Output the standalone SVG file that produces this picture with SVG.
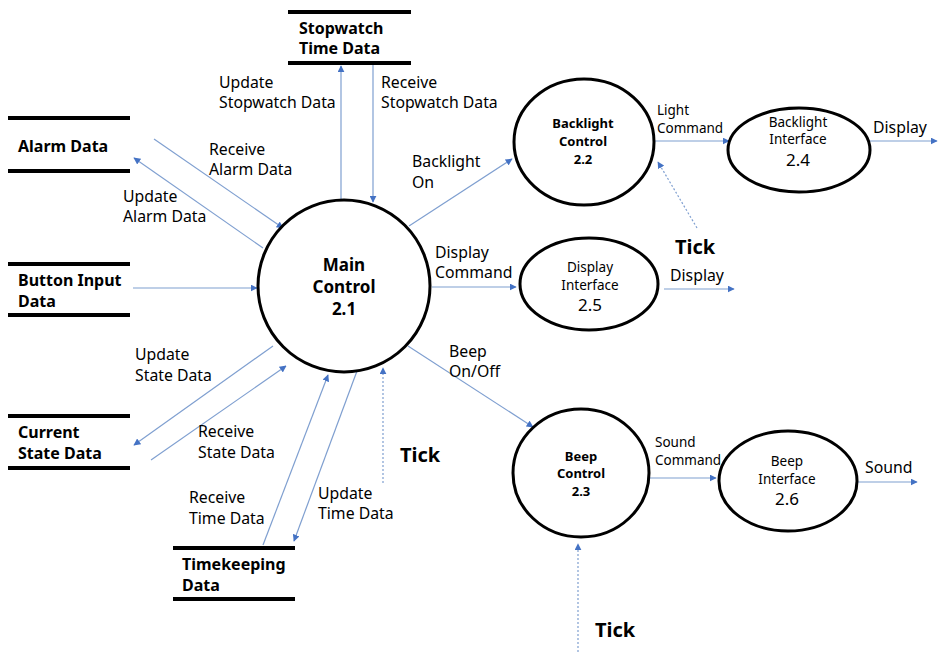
<svg xmlns="http://www.w3.org/2000/svg" width="938" height="652" viewBox="0 0 938 652">
<defs>
<marker id="ah" viewBox="0 0 10 10" refX="9" refY="5" markerWidth="7" markerHeight="7" markerUnits="userSpaceOnUse" orient="auto">
<path d="M0,0 L10,5 L0,10 z" fill="#4472C4"/>
</marker>
</defs>
<style>
.node{fill:#fff;stroke:#000;stroke-width:3}
.store{stroke:#000;stroke-width:4}
.f{stroke:#7f9fd0;stroke-width:1.2;fill:none;marker-end:url(#ah)}
.d{stroke:#7f9fd0;stroke-width:1.2;fill:none;stroke-dasharray:2,2;marker-end:url(#ah)}
text{font-family:"Noto Sans","Open Sans",sans-serif;fill:#000}
.lb{font-size:15.8px}
.sm{font-size:13.5px}
.sb{font-size:16px;font-weight:bold}
.tick{font-size:20px;font-weight:bold}
.mc{font-size:17px;font-weight:bold;text-anchor:middle}
.nb{font-size:13px;font-weight:bold;text-anchor:middle}
.nn{font-size:13.5px;text-anchor:middle}
.nnum{font-size:17px;text-anchor:middle}
</style>

<g id="connectors">
<line class="f" x1="341" y1="200" x2="341" y2="66"/>
<line class="f" x1="373" y1="65" x2="373" y2="202"/>
<line class="f" x1="154" y1="139" x2="283" y2="228"/>
<line class="f" x1="263" y1="248" x2="134" y2="158"/>
<line class="f" x1="133" y1="288" x2="257" y2="288"/>
<line class="f" x1="273" y1="346" x2="134" y2="445"/>
<line class="f" x1="151" y1="460" x2="286" y2="366"/>
<line class="f" x1="263" y1="545" x2="328" y2="375"/>
<line class="f" x1="357" y1="371" x2="294" y2="541"/>
<line class="d" x1="383" y1="483" x2="383" y2="368"/>
<line class="f" x1="409" y1="226" x2="512" y2="159"/>
<line class="f" x1="432" y1="287" x2="516" y2="287"/>
<line class="f" x1="408" y1="346" x2="533" y2="427"/>
<line class="f" x1="655" y1="141" x2="729" y2="141"/>
<line class="f" x1="870" y1="141" x2="937" y2="141"/>
<line class="f" x1="664" y1="289" x2="734" y2="289"/>
<line class="d" x1="697" y1="228" x2="658" y2="162"/>
<line class="f" x1="649" y1="478" x2="716" y2="478"/>
<line class="f" x1="857" y1="482" x2="917" y2="482"/>
<line class="d" x1="578" y1="652" x2="578" y2="544"/>
</g>

<g id="flow-labels">
<text class="lb" x="219" y="88">Update</text>
<text class="lb" x="219" y="108">Stopwatch Data</text>
<text class="lb" x="381" y="88">Receive</text>
<text class="lb" x="381" y="108">Stopwatch Data</text>
<text class="lb" x="209" y="155">Receive</text>
<text class="lb" x="209" y="175">Alarm Data</text>
<text class="lb" x="123" y="202">Update</text>
<text class="lb" x="123" y="222">Alarm Data</text>
<text class="lb" x="412" y="167">Backlight</text>
<text class="lb" x="412" y="188">On</text>
<text class="lb" x="435" y="258">Display</text>
<text class="lb" x="435" y="278">Command</text>
<text class="lb" x="135" y="360">Update</text>
<text class="lb" x="135" y="381">State Data</text>
<text class="lb" x="198" y="437">Receive</text>
<text class="lb" x="198" y="458">State Data</text>
<text class="lb" x="189" y="503">Receive</text>
<text class="lb" x="189" y="524">Time Data</text>
<text class="lb" x="318" y="499">Update</text>
<text class="lb" x="318" y="519">Time Data</text>
<text class="lb" x="449" y="357">Beep</text>
<text class="lb" x="449" y="377">On/Off</text>
<text class="sm" x="657" y="115">Light</text>
<text class="sm" x="657" y="133">Command</text>
<text class="lb" x="873" y="133">Display</text>
<text class="lb" x="670" y="281">Display</text>
<text class="sm" x="655" y="447">Sound</text>
<text class="sm" x="655" y="465">Command</text>
<text class="lb" x="865" y="473">Sound</text>
<text class="tick" x="400" y="462">Tick</text>
<text class="tick" x="675" y="254">Tick</text>
<text class="tick" x="595" y="637">Tick</text>
</g>

<g id="store-alarm">
<line class="store" x1="8" y1="118" x2="130" y2="118"/>
<line class="store" x1="8" y1="171" x2="130" y2="171"/>
<text class="sb" x="18" y="152">Alarm Data</text>
</g>
<g id="store-button">
<line class="store" x1="8" y1="264" x2="130" y2="264"/>
<line class="store" x1="8" y1="315" x2="130" y2="315"/>
<text class="sb" x="18" y="286">Button Input</text>
<text class="sb" x="18" y="307">Data</text>
</g>
<g id="store-current">
<line class="store" x1="8" y1="416" x2="130" y2="416"/>
<line class="store" x1="8" y1="468" x2="130" y2="468"/>
<text class="sb" x="18" y="438">Current</text>
<text class="sb" x="18" y="459">State Data</text>
</g>
<g id="store-timekeeping">
<line class="store" x1="173" y1="548" x2="295" y2="548"/>
<line class="store" x1="173" y1="599" x2="295" y2="599"/>
<text class="sb" x="182" y="570">Timekeeping</text>
<text class="sb" x="182" y="591">Data</text>
</g>
<g id="store-stopwatch">
<line class="store" x1="288" y1="12" x2="411" y2="12"/>
<line class="store" x1="288" y1="63" x2="411" y2="63"/>
<text class="sb" x="299" y="34">Stopwatch</text>
<text class="sb" x="299" y="54">Time Data</text>
</g>

<g id="main-control">
<circle class="node" cx="344" cy="286" r="86"/>
<text class="mc" x="344" y="271">Main</text>
<text class="mc" x="344" y="293">Control</text>
<text class="mc" x="344" y="315">2.1</text>
</g>
<g id="backlight-control">
<ellipse class="node" cx="584" cy="142" rx="70" ry="63"/>
<text class="nb" x="583" y="128">Backlight</text>
<text class="nb" x="583" y="146">Control</text>
<text class="nb" x="583" y="164">2.2</text>
</g>
<g id="backlight-interface">
<ellipse class="node" cx="799" cy="150" rx="71" ry="42"/>
<text class="nn" x="798" y="127">Backlight</text>
<text class="nn" x="798" y="144">Interface</text>
<text class="nnum" x="798" y="166">2.4</text>
</g>
<g id="display-interface">
<ellipse class="node" cx="589" cy="284" rx="69" ry="46"/>
<text class="nn" x="590" y="272">Display</text>
<text class="nn" x="590" y="290">Interface</text>
<text class="nnum" x="590" y="311">2.5</text>
</g>
<g id="beep-control">
<ellipse class="node" cx="581" cy="473" rx="68" ry="64"/>
<text class="nb" x="581" y="461">Beep</text>
<text class="nb" x="581" y="478">Control</text>
<text class="nb" x="581" y="496">2.3</text>
</g>
<g id="beep-interface">
<ellipse class="node" cx="788" cy="481" rx="69" ry="50"/>
<text class="nn" x="787" y="466">Beep</text>
<text class="nn" x="787" y="484">Interface</text>
<text class="nnum" x="787" y="505">2.6</text>
</g>
</svg>
